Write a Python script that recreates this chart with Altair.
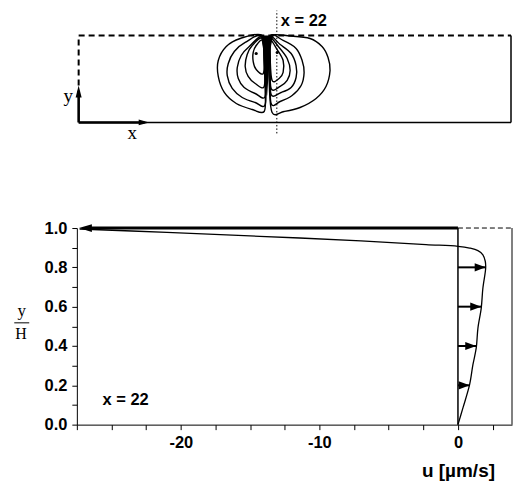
import altair as alt
import pandas as pd

# ---------------- top panel: channel schematic (x in channel units, y = y/H) ----------------
channel_length = 48.0
surface_y = 1.0
section_x = 22
y_arrow_tip = 0.425
x_arrow_tip = 7.8
section_line_y = [-0.126, 1.287]

contour_L1 = [(20.38, 1.0), (17.94, 0.966), (16.39, 0.874), (15.50, 0.713), (15.50, 0.529), (16.17, 0.345),
              (17.50, 0.218), (19.27, 0.149), (20.60, 0.126), (20.71, 0.368), (20.60, 0.713)]
contour_L2 = [(20.38, 0.989), (18.49, 0.920), (17.28, 0.816), (16.61, 0.678), (16.50, 0.540), (17.05, 0.391),
              (18.16, 0.287), (19.60, 0.230), (20.71, 0.207), (20.71, 0.598)]
contour_L3 = [(20.38, 0.977), (18.94, 0.874), (18.05, 0.770), (17.61, 0.632), (17.72, 0.506), (18.38, 0.402),
              (19.60, 0.333), (20.71, 0.299), (20.71, 0.644)]
contour_L4 = [(20.38, 0.966), (19.27, 0.885), (18.71, 0.782), (18.49, 0.644), (18.82, 0.529), (19.60, 0.448),
              (20.60, 0.414), (20.60, 0.713)]
contour_L5 = [(20.38, 0.943), (19.71, 0.885), (19.38, 0.805), (19.38, 0.701), (19.71, 0.609), (20.49, 0.563),
              (20.60, 0.759)]
contour_R1 = [(21.26, 1.0), (23.48, 0.995), (25.69, 0.966), (27.02, 0.874), (27.69, 0.747), (27.91, 0.598),
              (27.46, 0.414), (26.36, 0.276), (24.58, 0.172), (22.81, 0.126), (21.48, 0.115), (21.15, 0.483),
              (21.15, 0.828)]
contour_R2 = [(21.26, 0.989), (22.70, 0.943), (24.14, 0.851), (24.81, 0.713), (25.03, 0.575), (24.70, 0.425),
              (23.70, 0.310), (22.37, 0.241), (21.37, 0.218), (21.26, 0.598)]
contour_R3 = [(21.26, 0.977), (22.37, 0.897), (23.59, 0.793), (24.14, 0.655), (24.14, 0.517), (23.59, 0.402),
              (22.48, 0.345), (21.37, 0.322), (21.26, 0.655)]
contour_R4 = [(21.26, 0.966), (22.26, 0.862), (23.15, 0.736), (23.48, 0.598), (23.15, 0.483), (22.37, 0.414),
              (21.37, 0.391), (21.26, 0.713)]
contour_R5 = [(21.26, 0.943), (22.04, 0.839), (22.70, 0.713), (22.70, 0.575), (22.26, 0.506), (21.48, 0.483),
              (21.26, 0.736)]
contour_names = ["L1", "L2", "L3", "L4", "L5", "R1", "R2", "R3", "R4", "R5"]
contour_sets = [contour_L1, contour_L2, contour_L3, contour_L4, contour_L5,
                contour_R1, contour_R2, contour_R3, contour_R4, contour_R5]

vortex_x = [19.71, 22.04]
vortex_y = [0.793, 0.805]

wedge_y = [1.0, 0.885, 0.713, 0.483, 0.31]
wedge_x1 = [20.27, 20.43, 20.60, 20.76, 20.88]
wedge_x2 = [21.59, 21.37, 21.21, 21.04, 20.93]

# ---------------- bottom panel: velocity profile at x = 22 ----------------
profile_u = [0.0, 0.36, 0.84, 1.08, 1.32, 1.44, 1.68, 1.80, 2.00, 1.97, 1.80, 1.44, 0.84, 0.0,
             -2.3, -7.0, -14.3, -21.0, -27.3]
profile_y = [0.0, 0.085, 0.203, 0.305, 0.39, 0.49, 0.593, 0.695, 0.797, 0.831, 0.864, 0.885, 0.898, 0.907,
             0.916, 0.935, 0.958, 0.978, 0.995]
arrow_y = [0.2, 0.4, 0.6, 0.8]
arrow_u = [0.84, 1.32, 1.68, 2.00]
surface_u = -27.35
u_max = 3.9
x_tick_values = [-27.5, -25.0, -22.5, -20.0, -17.5, -15.0, -12.5, -10.0, -7.5, -5.0, -2.5, 0.0, 2.5]
x_tick_labels = [-20, -10, 0]
y_tick_values = [0.0, 0.1, 0.2, 0.3, 0.4, 0.5, 0.6, 0.7, 0.8, 0.9, 1.0]

SANS = "Liberation Sans"
SERIF = "Liberation Serif"

# ================= TOP PANEL =================
W1, H1 = 435, 135
xs_t = alt.Scale(domain=[-0.2, channel_length], nice=False, zero=False)
ys_t = alt.Scale(domain=[-0.25, 1.3], nice=False, zero=False)


def tx(f):
    return alt.X(f, scale=xs_t, axis=None)


def ty(f):
    return alt.Y(f, scale=ys_t, axis=None)


rows = []
for name, pts in zip(contour_names, contour_sets):
    for i, (x, y) in enumerate(pts):
        rows.append({"c": name, "i": i, "x": x, "y": y})
contour_df = pd.DataFrame(rows)

contours = alt.Chart(contour_df).mark_line(
    interpolate="cardinal-closed", color="black", strokeWidth=1.4
).encode(x=tx("x:Q"), y=ty("y:Q"), detail="c:N", order="i:Q")

wedge = alt.Chart(pd.DataFrame({"y": wedge_y, "x": wedge_x1, "x2": wedge_x2})).mark_area(
    orient="horizontal", color="black"
).encode(y=ty("y:Q"), x=tx("x:Q"), x2="x2:Q")

vortices = alt.Chart(pd.DataFrame({"x": vortex_x, "y": vortex_y})).mark_circle(
    color="black", size=10, opacity=1
).encode(x=tx("x:Q"), y=ty("y:Q"))

dashed_df = pd.DataFrame({"x": [0.0, 0.0], "x2": [channel_length, 0.0],
                          "y": [surface_y, y_arrow_tip], "y2": [surface_y, surface_y]})
dashed = alt.Chart(dashed_df).mark_rule(color="black", strokeWidth=2, strokeDash=[6, 4]).encode(
    x=tx("x:Q"), x2="x2:Q", y=ty("y:Q"), y2="y2:Q")

walls_df = pd.DataFrame({"x": [0.0, channel_length], "x2": [channel_length, channel_length],
                         "y": [0.0, 0.0], "y2": [0.0, surface_y]})
walls = alt.Chart(walls_df).mark_rule(color="black", strokeWidth=1.5).encode(
    x=tx("x:Q"), x2="x2:Q", y=ty("y:Q"), y2="y2:Q")

shaft_df = pd.DataFrame({"x": [0.0, 0.0], "x2": [0.0, x_arrow_tip - 0.5],
                         "y": [0.0, 0.0], "y2": [y_arrow_tip - 0.06, 0.0]})
shafts = alt.Chart(shaft_df).mark_rule(color="black", strokeWidth=2.6).encode(
    x=tx("x:Q"), x2="x2:Q", y=ty("y:Q"), y2="y2:Q")

head_up = alt.Chart(pd.DataFrame({"x": [0.0], "y": [y_arrow_tip]})).mark_point(
    shape="M0,-1L-0.5,1L0.5,1Z", size=144, filled=True, color="black", opacity=1, yOffset=6
).encode(x=tx("x:Q"), y=ty("y:Q"))
head_right = alt.Chart(pd.DataFrame({"x": [x_arrow_tip], "y": [0.0]})).mark_point(
    shape="M1,0L-1,-0.55L-1,0.55Z", size=110, filled=True, color="black", opacity=1, xOffset=-5
).encode(x=tx("x:Q"), y=ty("y:Q"))

section = alt.Chart(pd.DataFrame({"x": [section_x], "y": [section_line_y[0]], "y2": [section_line_y[1]]})).mark_rule(
    color="black", strokeWidth=1, strokeDash=[1.5, 2]
).encode(x=tx("x:Q"), y=ty("y:Q"), y2="y2:Q")

section_label = alt.Chart(pd.DataFrame({"x": [section_x], "y": [1.115], "t": ["x = 22"]})).mark_text(
    font=SANS, fontSize=16.5, fontWeight="bold", align="left", baseline="alphabetic", dx=4, color="black"
).encode(x=tx("x:Q"), y=ty("y:Q"), text="t:N")

axis_labels = alt.Chart(pd.DataFrame({"x": [-1.16, 5.95], "y": [0.241, -0.187], "t": ["y", "x"]})).mark_text(
    font=SERIF, fontSize=19, align="center", baseline="alphabetic", color="black"
).encode(x=tx("x:Q"), y=ty("y:Q"), text="t:N")

top = alt.layer(dashed, walls, shafts, head_up, head_right, wedge, contours, vortices, section,
                section_label, axis_labels).properties(width=W1, height=H1)

# ================= BOTTOM PANEL =================
W2, H2 = 436, 197
xs_b = alt.Scale(domain=[-27.5, u_max], nice=False, zero=False)
ys_b = alt.Scale(domain=[0, 1], nice=False, zero=False)

x_axis = alt.Axis(
    values=x_tick_values,
    labelExpr="indexof(" + str(x_tick_labels) + ", datum.value) >= 0 ? '' + datum.value : ''",
    title="u [µm/s]", titleFont=SANS, titleFontSize=19, titleFontWeight="bold", titleColor="black",
    titleX=W2 * 27.5 / (27.5 + u_max), titleY=51.6, titleAlign="center", titleBaseline="alphabetic",
    labelFont=SANS, labelFontSize=16.5, labelFontWeight="bold", labelColor="black", labelPadding=5,
    domainColor="black", domainWidth=1, ticks=True, tickColor="black", tickSize=5, tickWidth=1, grid=False,
)
y_axis = alt.Axis(
    values=y_tick_values,
    labelExpr="round(datum.value * 10) % 2 == 0 ? format(datum.value, '.1f') : ''",
    title=None, labelFont=SANS, labelFontSize=16.5, labelFontWeight="bold", labelColor="black", labelPadding=5,
    domainColor="black", domainWidth=1, ticks=True, tickColor="black", tickSize=5, tickWidth=1, grid=False,
)


def bx(f):
    return alt.X(f, scale=xs_b, axis=x_axis)


def by(f):
    return alt.Y(f, scale=ys_b, axis=y_axis)


profile_df = pd.DataFrame({"u": profile_u, "y": profile_y, "i": list(range(len(profile_u)))})
profile = alt.Chart(profile_df).mark_line(color="black", strokeWidth=1.3, interpolate="catmull-rom").encode(
    x=bx("u:Q"), y=by("y:Q"), order="i:Q")

zero_line = alt.Chart(pd.DataFrame({"u": [0.0], "y": [0.0], "y2": [1.0]})).mark_rule(
    color="black", strokeWidth=1.5).encode(x=bx("u:Q"), y=by("y:Q"), y2="y2:Q")
right_border = alt.Chart(pd.DataFrame({"u": [u_max], "y": [0.0], "y2": [1.0]})).mark_rule(
    color="black", strokeWidth=1).encode(x=bx("u:Q"), y=by("y:Q"), y2="y2:Q")

surface_df = pd.DataFrame({"u": [0.0], "u2": [surface_u + 0.6], "y": [1.0]})
surface_arrow = alt.Chart(surface_df).mark_rule(color="black", strokeWidth=3).encode(
    x=bx("u:Q"), x2="u2:Q", y=by("y:Q"))
surface_head = alt.Chart(pd.DataFrame({"u": [surface_u], "y": [1.0]})).mark_point(
    shape="M-1,0L1,-0.6L1,0.6Z", size=169, filled=True, color="black", opacity=1, xOffset=6.5
).encode(x=bx("u:Q"), y=by("y:Q"))
surface_dash = alt.Chart(pd.DataFrame({"u": [0.0], "u2": [u_max], "y": [1.0]})).mark_rule(
    color="black", strokeWidth=1, strokeDash=[5, 3]).encode(x=bx("u:Q"), x2="u2:Q", y=by("y:Q"))

arrows_df = pd.DataFrame({"u": [0.0] * len(arrow_u), "u2": arrow_u, "y": arrow_y})
arrow_shafts = alt.Chart(arrows_df).mark_rule(color="black", strokeWidth=2).encode(
    x=bx("u:Q"), x2="u2:Q", y=by("y:Q"))
arrow_heads = alt.Chart(pd.DataFrame({"u": arrow_u, "y": arrow_y})).mark_point(
    shape="M1,0L-1,-0.75L-1,0.75Z", size=121, filled=True, color="black", opacity=1, xOffset=-5.5
).encode(x=bx("u:Q"), y=by("y:Q"))

panel_label = alt.Chart(pd.DataFrame({"u": [-25.65], "y": [0.102], "t": ["x = 22"]})).mark_text(
    font=SANS, fontSize=16.5, fontWeight="bold", align="left", baseline="alphabetic", color="black"
).encode(x=bx("u:Q"), y=by("y:Q"), text="t:N")

frac_num = alt.Chart(pd.DataFrame({"t": ["y"]})).mark_text(
    font=SERIF, fontSize=17, align="center", baseline="alphabetic", color="black"
).encode(x=alt.value(-55.3), y=alt.value(88), text="t:N")
frac_den = alt.Chart(pd.DataFrame({"t": ["H"]})).mark_text(
    font=SERIF, fontSize=16, align="center", baseline="alphabetic", color="black"
).encode(x=alt.value(-56), y=alt.value(110.7), text="t:N")
frac_bar = alt.Chart(pd.DataFrame({"t": ["bar"]})).mark_rule(color="black", strokeWidth=1).encode(
    x=alt.value(-62.7), x2=alt.value(-47.7), y=alt.value(95))

bottom = alt.layer(profile, zero_line, right_border, surface_dash, surface_arrow, surface_head,
                   arrow_shafts, arrow_heads, panel_label, frac_num, frac_den, frac_bar
                   ).properties(width=W2, height=H2)

chart = alt.vconcat(top, bottom, spacing=84, bounds="flush").properties(
    padding={"left": 13, "top": 9, "right": 0, "bottom": 0}, background="white"
).configure_view(strokeWidth=0, stroke="transparent")

chart.save("out.html", embed_options={"renderer": "svg", "actions": False})
